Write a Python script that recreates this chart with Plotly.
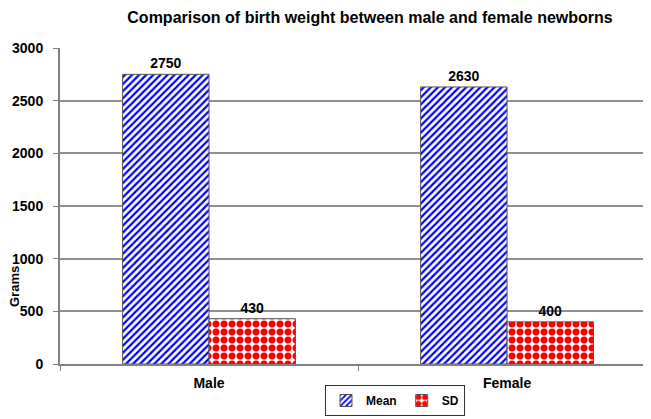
import plotly.graph_objects as go

categories = ["Male", "Female"]
mean_values = [2750, 2630]
sd_values = [430, 400]
y_ticks = [0, 500, 1000, 1500, 2000, 2500, 3000]

font_family = "Liberation Sans, Arial, sans-serif"
bold14 = dict(family=font_family, size=14, color="black", weight="bold")

# page has an 8px body margin; figure coords = page coords - 8
W, H = 643, 411
L, T, B = 52, 40, 55
PW = W - L
PH = H - T - B

fig = go.Figure()
fig.add_trace(go.Bar(
    name="Mean", x=categories, y=mean_values,
    text=[str(v) for v in mean_values], textposition="outside",
    textfont=bold14,
    marker=dict(color="white", line=dict(color="#555555", width=1),
                pattern=dict(shape="/", fgcolor="#0000FF", bgcolor="white", size=5,
                             solidity=0.45, fgopacity=1)),
    cliponaxis=False,
))
fig.add_trace(go.Bar(
    name="SD", x=categories, y=sd_values,
    text=[str(v) for v in sd_values], textposition="outside",
    textfont=bold14,
    marker=dict(color="white", line=dict(color="#555555", width=1),
                pattern=dict(shape=".", fgcolor="#FF0000", bgcolor="white", size=8,
                             solidity=0.6, fgopacity=1)),
    cliponaxis=False,
))

fig.update_layout(
    width=W, height=H,
    margin=dict(l=L, r=0, t=T, b=B, autoexpand=False),
    paper_bgcolor="white", plot_bgcolor="white",
    font=dict(family=font_family, size=14, color="black"),
    barmode="group", bargap=0.42, bargroupgap=0,
    title=dict(text="Comparison of birth weight between male and female newborns",
               x=362 / W, xanchor="center", xref="container",
               y=1 - 9 / H, yanchor="middle", yref="container",
               font=dict(size=16, family=font_family, color="black", weight="bold")),
    showlegend=True,
    legend=dict(orientation="h", xref="paper", yref="paper",
                x=(387 - L) / PW, xanchor="center", y=-(408 - (T + PH)) / PH, yanchor="bottom",
                bordercolor="#333333", borderwidth=1,
                font=dict(size=12, family=font_family, color="black", weight="bold"),
                itemwidth=30, traceorder="normal", tracegroupgap=0),
)
fig.update_xaxes(
    range=[-0.5, 1.483], showline=True, linecolor="#808080", linewidth=2,
    ticks="outside", tickson="boundaries", ticklen=5, tickcolor="#808080",
    tickfont=bold14, showgrid=False, automargin=False, ticklabelstandoff=5,
)
fig.update_yaxes(
    range=[0, 3000], tickvals=y_ticks, showline=True, linecolor="#808080", linewidth=2,
    ticks="outside", ticklen=5, tickcolor="#808080",
    showgrid=True, gridcolor="#909090", gridwidth=1.5,
    tickfont=bold14, zeroline=False, automargin=False, ticklabelstandoff=7,
)
fig.add_annotation(
    text="Grams", textangle=-90, xref="paper", yref="paper",
    x=(6 - L) / PW, y=(T + PH - 279) / PH, xanchor="center", yanchor="middle",
    showarrow=False,
    font=dict(size=13, family=font_family, color="black", weight="bold"),
)

fig.write_html("out.html")
